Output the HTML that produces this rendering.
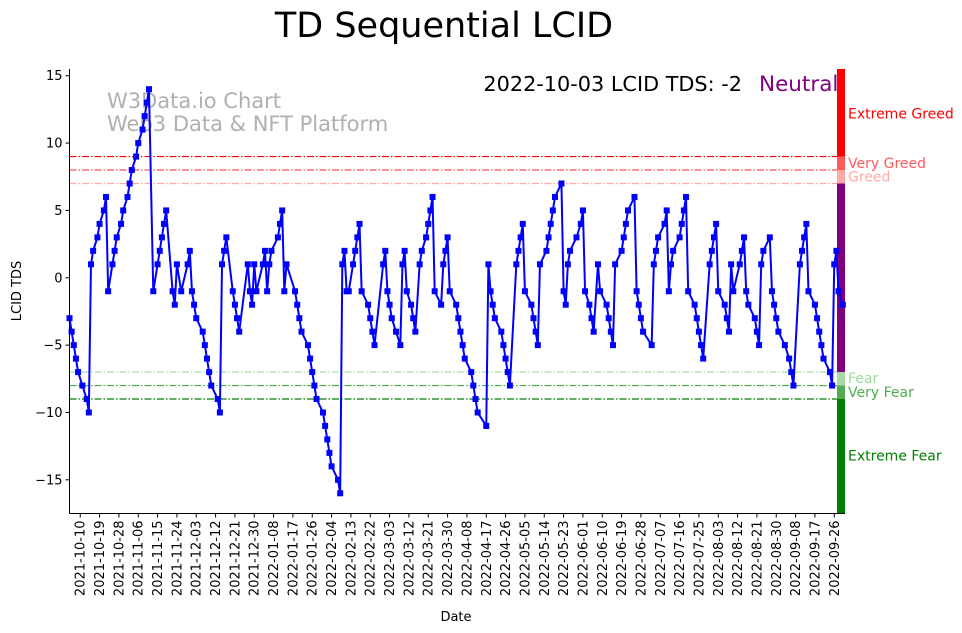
<!DOCTYPE html>
<html><head><meta charset="utf-8">
<style>
html,body{margin:0;padding:0;background:#fff;}
svg{display:block;font-family:"DejaVu Sans","Liberation Sans",sans-serif;}
</style></head>
<body>
<svg id="chart" width="962" height="633" viewBox="0 0 962 633" xmlns="http://www.w3.org/2000/svg">
<rect width="962" height="633" fill="#fff"/>
<text x="444" y="37" font-size="35" text-anchor="middle" fill="#000">TD Sequential LCID</text>
<text x="107" y="108" font-size="21" fill="#b0b0b0">W3Data.io Chart</text>
<text x="107" y="131" font-size="21" fill="#b0b0b0">Web3 Data &amp; NFT Platform</text>
<text x="742" y="91" font-size="20.8" text-anchor="end" fill="#000">2022-10-03 LCID TDS: -2</text>
<text x="759" y="91" font-size="21.5" fill="#800080">Neutral</text>
<g id="grid"></g>
<g id="band"></g>
<g id="series"></g>
<g id="axes"></g>
<text x="456" y="621" font-size="13" text-anchor="middle">Date</text>
<text transform="translate(21,291) rotate(-90)" font-size="13" text-anchor="middle">LCID TDS</text>
</svg>
<script>
// days since 2021-10-10
const days = [-5,-4,-3,-2,-1,1,3,4,5,6,8,9,11,12,13,15,16,17,19,20,22,23,24,26,27,29,30,31,32,34,36,37,38,39,40,43,44,45,47,50,51,52,53,54,57,58,59,60,61,64,65,66,67,68,71,72,73,74,78,79,80,81,82,85,86,87,88,89,92,93,94,95,96,100,101,102,103,106,107,108,109,110,113,114,115,116,117,120,121,122,123,124,125,127,128,129,130,131,134,135,136,137,141,142,143,144,145,147,149,150,151,152,154,155,156,158,159,161,162,163,164,165,168,169,170,171,172,175,176,177,178,179,182,183,184,185,189,190,191,192,193,196,197,198,199,200,203,204,205,206,207,210,211,212,213,214,217,218,219,220,221,224,225,226,227,228,231,233,234,235,237,238,239,241,242,245,246,247,248,249,252,253,254,255,258,259,260,261,262,266,267,268,269,272,273,274,275,276,279,280,281,282,283,286,287,288,289,290,293,294,295,296,297,300,301,302,303,304,307,308,309,310,311,314,315,316,317,318,321,322,323,324,325,328,330,331,332,335,336,337,338,339,342,343,344,345,346,349,350,351,352,353,355];
const tds = [-3,-4,-5,-6,-7,-8,-9,-10,1,2,3,4,5,6,-1,1,2,3,4,5,6,7,8,9,10,11,12,13,14,-1,1,2,3,4,5,-1,-2,1,-1,1,2,-1,-2,-3,-4,-5,-6,-7,-8,-9,-10,1,2,3,-1,-2,-3,-4,1,-1,-2,1,-1,1,2,-1,1,2,3,4,5,-1,1,-1,-2,-3,-4,-5,-6,-7,-8,-9,-10,-11,-12,-13,-14,-15,-16,1,2,-1,-1,1,2,3,4,-1,-2,-3,-4,-5,1,2,-1,-2,-3,-4,-5,1,2,-1,-2,-3,-4,1,2,3,4,5,6,-1,-2,1,2,3,-1,-2,-3,-4,-5,-6,-7,-8,-9,-10,-11,1,-1,-2,-3,-4,-5,-6,-7,-8,1,2,3,4,-1,-2,-3,-4,-5,1,2,3,4,5,6,7,-1,-2,1,2,3,4,5,-1,-2,-3,-4,1,-1,-2,-3,-4,-5,1,2,3,4,5,6,-1,-2,-3,-4,-5,1,2,3,4,5,-1,1,2,3,4,5,6,-1,-2,-3,-4,-5,-6,1,2,3,4,-1,-2,-3,-4,1,-1,1,2,3,-1,-2,-3,-4,-5,1,2,3,-1,-2,-3,-4,-5,-6,-7,-8,1,2,3,4,-1,-2,-3,-4,-5,-6,-7,-8,1,2,-1,-2];
const xTickLabels = ["2021-10-10","2021-10-19","2021-10-28","2021-11-06","2021-11-15","2021-11-24","2021-12-03","2021-12-12","2021-12-21","2021-12-30","2022-01-08","2022-01-17","2022-01-26","2022-02-04","2022-02-13","2022-02-22","2022-03-03","2022-03-12","2022-03-21","2022-03-30","2022-04-08","2022-04-17","2022-04-26","2022-05-05","2022-05-14","2022-05-23","2022-06-01","2022-06-10","2022-06-19","2022-06-28","2022-07-07","2022-07-16","2022-07-25","2022-08-03","2022-08-12","2022-08-21","2022-08-30","2022-09-08","2022-09-17","2022-09-26"];
const yTicks = [15,10,5,0,-5,-10,-15];
const levelValues = [9,8,7,-7,-8,-9];
const levelColors = ["#ff0000","#ff5050","#ffaaaa","#a0dca0","#40b040","#008000"];
const bandEdges = [15.5,9,8,7,-7,-8,-9,-17.5];
const bandColors = ["#ff0000","#ff5a5a","#ffaaaa","#800080","#a8d8a8","#55aa55","#008000"];
const bandLabels = ["Extreme Greed","Very Greed","Greed","Fear","Very Fear","Extreme Fear"];
const bandLabelValues = [12.2,8.52,7.52,-7.45,-8.47,-13.2];
const bandLabelColors = ["#ff0000","#ff5a5a","#ffaaaa","#a0dca0","#4cb04c","#008000"];

const NS="http://www.w3.org/2000/svg";
const X0=69.5,X1=845,D0=-5,D1=356,Y0=513.5,Y1=69,V0=-17.5,V1=15.5;
const xs=d=>X0+(d-D0)/(D1-D0)*(X1-X0);
const ys=v=>Y0-(v-V0)/(V1-V0)*(Y0-Y1);
function mk(tag,attrs,parent){const e=document.createElementNS(NS,tag);for(const k in attrs)e.setAttribute(k,attrs[k]);parent.appendChild(e);return e;}
const grid=document.getElementById('grid'),band=document.getElementById('band'),series=document.getElementById('series'),axes=document.getElementById('axes');

levelValues.forEach((v,i)=>{
  const l=mk('line',{x1:X0,x2:837,y1:ys(v),y2:ys(v),stroke:levelColors[i],'stroke-width':1.2,'stroke-dasharray':'7,2,1.5,2'},grid);
  
  
});
for(let i=0;i<bandColors.length;i++){
  const r=mk('rect',{x:837,width:8,y:ys(bandEdges[i]),height:ys(bandEdges[i+1])-ys(bandEdges[i]),fill:bandColors[i]},band);
  
  
}
bandLabels.forEach((t,i)=>{
  const e=mk('text',{x:848,y:ys(bandLabelValues[i])+5,'font-size':14,fill:bandLabelColors[i]},band);
  e.textContent=t;
  
  
});

const pts=days.map((d,i)=>xs(d).toFixed(2)+','+ys(tds[i]).toFixed(2)).join(' ');
const line=mk('polyline',{points:pts,fill:'none',stroke:'#0000ff','stroke-width':2},series);


days.forEach((d,i)=>{
  const m=mk('rect',{x:xs(d)-3,y:ys(tds[i])-3,width:6,height:6,fill:'#0000ff'},series);
  
  
});

const ls=mk('line',{x1:X0,x2:X0,y1:Y1,y2:Y0,stroke:'#000','stroke-width':1},axes);


const bs=mk('line',{x1:X0,x2:X1,y1:Y0,y2:Y0,stroke:'#000','stroke-width':1},axes);


yTicks.forEach(v=>{
  mk('line',{x1:X0-4,x2:X0,y1:ys(v),y2:ys(v),stroke:'#000'},axes);
  const t=mk('text',{x:X0-7,y:ys(v)+4.5,'font-size':13,'text-anchor':'end'},axes);
  t.textContent=String(v).replace('-','\u2212');
  
  
});
xTickLabels.forEach((s,i)=>{
  const x=xs(i*9);
  mk('line',{x1:x,x2:x,y1:Y0,y2:Y0+4,stroke:'#000'},axes);
  const t=mk('text',{transform:`translate(${x+4.5},${Y0+7}) rotate(-90)`,'font-size':13,'text-anchor':'end'},axes);
  t.textContent=s;
  
  
});
</script>
</body></html>
